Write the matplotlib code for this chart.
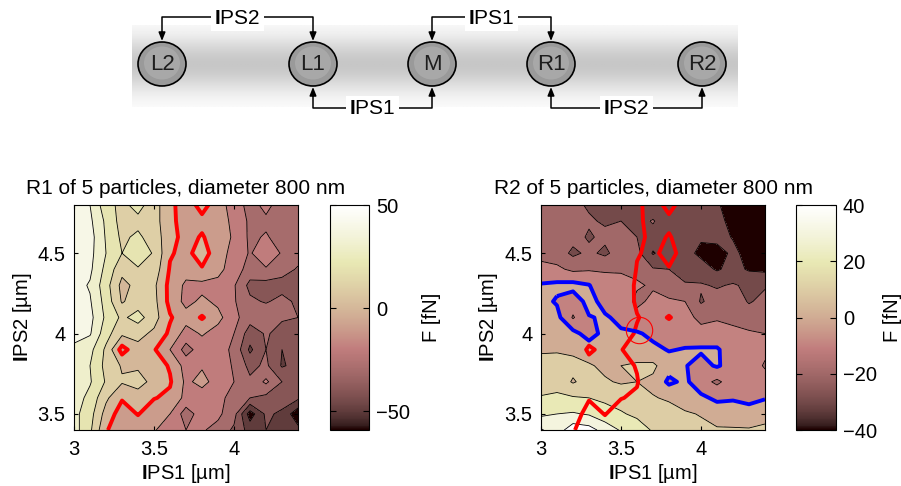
import numpy as np
import matplotlib
matplotlib.use("Agg")
import matplotlib.pyplot as plt
from matplotlib.colors import Normalize
from matplotlib.cm import ScalarMappable
from matplotlib.patches import Ellipse

plt.rcParams["font.family"] = ["Liberation Sans", "DejaVu Sans"]
plt.rcParams["mathtext.fontset"] = "custom"
plt.rcParams["mathtext.rm"] = "Liberation Sans"
plt.rcParams["mathtext.bf"] = "Liberation Sans:bold"

# particle chain
particles = ["L2", "L1", "M", "R1", "R2"]
links_top = [("L2", "L1", "IPS2"), ("M", "R1", "IPS1")]
links_bottom = [("L1", "M", "IPS1"), ("R1", "R2", "IPS2")]

# force maps on the (IPS1, IPS2) grid, rows run from IPS2 = 4.8 down to 3.4
ips1 = [3.0, 3.1, 3.2, 3.3, 3.4, 3.5, 3.6, 3.7, 3.8, 3.9, 4.0, 4.1, 4.2, 4.3, 4.4]
ips2 = [4.8, 4.7, 4.6, 4.5, 4.4, 4.3, 4.2, 4.1, 4.0, 3.9, 3.8, 3.7, 3.6, 3.5, 3.4]

force_r1 = [
    [45, 40, 24, 17, 24, 14, 3, -6, 4, -6, -14, -24, -17, -25, -27],
    [46, 42, 28, 16, 17, 14, 3, -5, -3, -6, -12, -22, -22, -24, -26],
    [47, 44, 29, 18, 22, 15, 4, -4, 1, -6, -11, -22, -19, -24, -25],
    [46, 43, 30, 20, 26, 19, 1, -3, 5, -6, -13, -21, -13, -21, -26],
    [45, 42, 27, 13, 19, 16, -1, -6, -1, -7, -15, -24, -21, -26, -31],
    [44, 39, 24, 7, 13, 12, -3, -12, -13, -13, -19, -33, -34, -34, -34],
    [45, 41, 26, 9, 15, 13, -3, -13, -8, -12, -19, -28, -31, -27, -32],
    [46, 43, 28, 18, 24, 14, 1, -6, 1, -7, -17, -26, -22, -29, -30],
    [43, 41, 24, 12, 13, 8, -2, -14, -9, -14, -20, -35, -29, -33, -34],
    [38, 33, 18, -4, 7, 1, -10, -24, -15, -16, -22, -42, -30, -40, -38],
    [36, 30, 17, 9, 8, 5, -1, -14, -11, -15, -21, -33, -28, -41, -37],
    [37, 31, 19, 11, 15, 6, 1, -12, -7, -14, -20, -28, -18, -30, -32],
    [35, 27, 12, 1, 4, 0.5, -2, -13, -15, -16, -25, -30, -33, -35, -38],
    [33, 24, 6, -5, 0.5, -6, -10, -25, -15, -18, -26, -55, -38, -42, -57],
    [34, 22, 1, -7, -6, -9, -16, -20, -19, -23, -32, -44, -40, -44, -47],
]

force_r2 = [
    [-17, -16, -18, -21, -23, -26, -28, -28, -30, -28, -28, -29, -34, -38, -39.5],
    [-15, -15, -17, -19, -21, -20, -24, -19, -28, -27, -27, -27, -33, -37, -39],
    [-14, -13, -17, -21, -18, -16, -20, -24, -26, -26, -29, -27, -30.5, -35, -37],
    [-12, -15, -22, -18, -22, -15, -17, -31, -24, -27, -32, -34, -28, -33, -35],
    [-8, -8, -12, -11, -10.5, -11, -12, -19, -20, -24, -26, -31, -27, -31, -32],
    [1, 2, 3, 0.5, -8, -7, -9, -11, -14, -19, -19, -21, -19, -22, -21],
    [3, -1, -5, 3, -3, -5, -12, -8, -9, -10, -21, -16, -14, -21, -17],
    [5, 3, -11, -0.5, 1, -2, -7, -5, -6, -6, -13, -11, -12, -14, -14],
    [7, 6, 3, -4, 3, 1, 1, -2, -3, -4, -6, -6, -8, -9, -10],
    [9, 9, 8, 5, 6, 5, 6, 2, -0.5, 0.5, 1, 1, -5, -7, -8],
    [13, 14, 13, 11, 8, 10, 11, 12, 4, 0.5, -3, 1, -4, -5, -11],
    [14, 16, 9, 14, 11, 9, 10, 8, -2, 2, -6, -12, -5, -8, -6],
    [21, 22, 21, 20, 18, 16, 13, 10.5, 9, 6, 2, -2, -1, -2, -0.5],
    [28, 30, 31, 29, 24, 21, 18, 14, 13, 11, 9.5, 6, 5, 3, 5],
    [41, 35, 46, 44, 36, 29, 25, 19, 17, 14, 12, 11, 11, 11, 13],
]

# where both zero lines meet
crossing_ips1 = [3.61]
crossing_ips2 = [4.02]

W, H = 901, 486
fig = plt.figure(figsize=(W / 100, H / 100), dpi=100)
cmap = plt.get_cmap("pink")

# ---- sketch of the five particles ----
top_h = 125
ax0 = fig.add_axes([0, 1 - top_h / H, 1, top_h / H])
ax0.set_xlim(0, W)
ax0.set_ylim(top_h, 0)
ax0.axis("off")

rows = np.linspace(25, 107, 120)
shade = 1 - 0.22 * np.exp(-((rows - 64) / 28) ** 2)
ax0.imshow(np.repeat(shade[:, None], 2, axis=1), cmap="gray", vmin=0, vmax=1,
           extent=(132, 738, 107, 25), aspect="auto", interpolation="bilinear")

px = dict(zip(particles, [162, 313, 432, 551, 702]))
cy, rx, ry = 64, 24, 22
for name in particles:
    x = px[name]
    ax0.add_patch(Ellipse((x, cy), 2 * rx, 2 * ry, fc="#9a9a9a", ec="none"))
    ax0.add_patch(Ellipse((x, cy - 1), 1.5 * rx, 1.5 * ry, fc="#b2b2b2", ec="none", alpha=0.6))
    ax0.add_patch(Ellipse((x, cy), 2 * rx, 2 * ry, fc="none", ec="k", lw=1.2))
    ax0.text(x, cy + 1, name, ha="center", va="center", fontsize=16, color="#1e1e1e")


def connector(a, b, label, y_line, y_tip):
    xa, xb = px[a], px[b]
    y_tail = y_tip + (-9 if y_tip > y_line else 9)
    ax0.plot([xa, xa, xb, xb], [y_tail, y_line, y_line, y_tail], color="k", lw=1.1)
    for x in (xa, xb):
        ax0.annotate("", xy=(x, y_tip), xytext=(x, y_tail),
                     arrowprops=dict(arrowstyle="-|>,head_length=0.5,head_width=0.2",
                                     color="k", lw=1.1, shrinkA=0, shrinkB=0))
    ax0.text((xa + xb) / 2, y_line + 1, r"$\mathbf{I}$" + label[1:], ha="center",
             va="center", fontsize=15,
             bbox=dict(fc="white", ec="none", pad=2.5))


for a, b, lab in links_top:
    connector(a, b, lab, 17, cy - ry - 1)
for a, b, lab in links_bottom:
    connector(a, b, lab, 108, cy + ry + 1)

# ---- force maps ----
def frac(x0, y0, x1, y1):
    return [x0 / W, 1 - y1 / H, (x1 - x0) / W, (y1 - y0) / H]


def panel(ax, cax, force, levels, norm, ticks, title, blue, cb_pad):
    colors = [cmap(norm(lv)) for lv in levels[:-1]]
    ax.contourf(ips1, ips2, force, levels=levels, colors=colors)
    ax.contour(ips1, ips2, force, levels=levels, colors="k", linewidths=0.6,
               linestyles="solid")
    ax.contour(ips1, ips2, force_r1, levels=[0], colors="#ff0000", linewidths=2.8,
               linestyles="solid")
    if blue:
        ax.contour(ips1, ips2, force_r2, levels=[0], colors="#0000ff", linewidths=2.8,
                   linestyles="solid")
        ax.plot(crossing_ips1, crossing_ips2, "o", ms=19, mfc="none", mec="#ff0000", mew=0.8)
    ax.set_xlim(3, 4.4)
    ax.set_ylim(3.4, 4.8)
    ax.set_xticks([3, 3.5, 4])
    ax.set_xticklabels(["3", "3.5", "4"])
    ax.set_yticks([3.5, 4, 4.5])
    ax.set_yticklabels(["3.5", "4", "4.5"])
    ax.tick_params(direction="in", length=3, labelsize=14.5, top=True, right=True)
    ax.tick_params(axis="x", pad=7)
    ax.tick_params(axis="y", pad=6)
    ax.set_xlabel(r"$\mathbf{I}$PS1 [µm]", fontsize=14.5, labelpad=2)
    ax.set_ylabel(r"$\mathbf{I}$PS2 [µm]", fontsize=14.5, labelpad=3)
    ax.set_title(title, fontsize=15, pad=8)

    cb = fig.colorbar(ScalarMappable(norm=norm, cmap=cmap), cax=cax, ticks=ticks)
    cb.outline.set_linewidth(0.8)
    cax.tick_params(direction="in", length=4, labelsize=14.5, left=True, right=True, pad=5)
    cb.set_label("F [fN]", fontsize=14.5, labelpad=cb_pad)


ax1 = fig.add_axes(frac(74, 205, 298, 430))
cax1 = fig.add_axes(frac(330, 205, 369, 430))
panel(ax1, cax1, force_r1, np.arange(-60, 51, 10), Normalize(-59, 50), [-50, 0, 50],
      "R1 of 5 particles, diameter 800 nm", False, 9)

ax2 = fig.add_axes(frac(541, 205, 765, 430))
cax2 = fig.add_axes(frac(796, 205, 836, 430))
panel(ax2, cax2, force_r2, np.arange(-40, 51, 10), Normalize(-40, 40), [-40, -20, 0, 20, 40],
      "R2 of 5 particles, diameter 800 nm", True, 4)

fig.savefig("out.png", dpi=100)
